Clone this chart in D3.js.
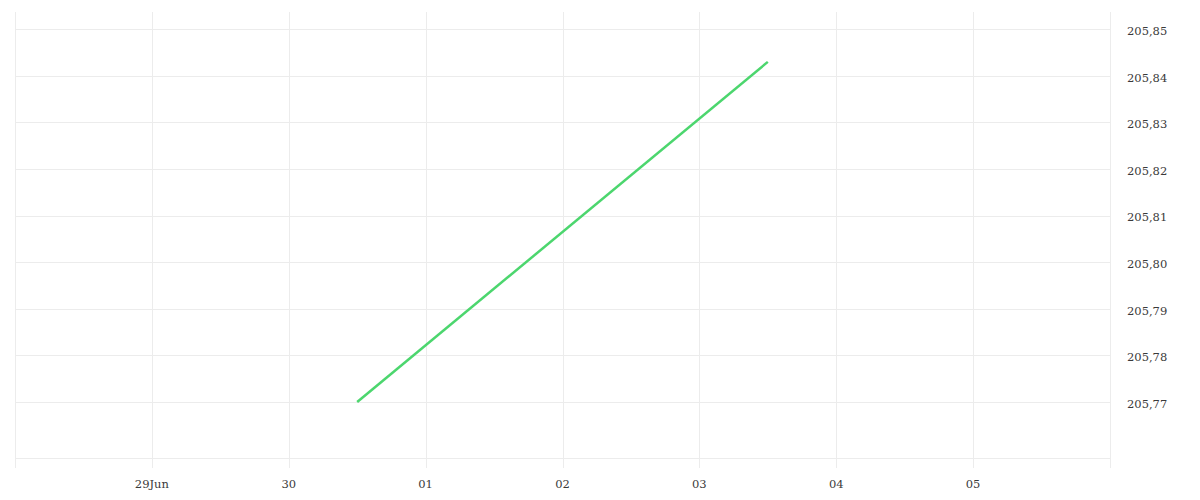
<!DOCTYPE html>
<html>
<head>
<meta charset="utf-8">
<script src="https://cdn.jsdelivr.net/npm/d3@7"></script>
<style>
  html, body { margin: 0; padding: 0; background: #fff; }
  svg { display: block; }
</style>
</head>
<body>
<div id="chart"></div>
<script>
// Series: one straight rise from 30 Jun midday to 3 Jul midday
const pointDates = ['2023-06-30T12:00', '2023-07-03T12:00'];
const pointValues = [205.770, 205.843];

// Axis ticks
const dayTicks = ['2023-06-28', '2023-06-29', '2023-06-30', '2023-07-01', '2023-07-02',
  '2023-07-03', '2023-07-04', '2023-07-05', '2023-07-06'];
const dayLabels = ['', '29Jun', '30', '01', '02', '03', '04', '05', ''];
const valueTicks = [205.77, 205.78, 205.79, 205.80, 205.81, 205.82, 205.83, 205.84, 205.85];

const width = 1200;
const height = 500;
const margin = { top: 12, right: 90, bottom: 42, left: 15 };
const parse = d3.timeParse('%Y-%m-%dT%H:%M');
const parseDay = d3.timeParse('%Y-%m-%d');

const svg = d3.select('#chart')
  .append('svg')
  .attr('width', width)
  .attr('height', height)
  .style('font-family', '"DejaVu Serif", serif');

const x = d3.scaleTime()
  .domain([parseDay('2023-06-28'), parseDay('2023-07-06')])
  .range([margin.left, width - margin.right]);

const y = d3.scaleLinear()
  .domain([205.758, 205.8537])
  .range([height - margin.bottom, margin.top]);

const gridColor = '#ececec';

// Horizontal grid lines + bottom border
svg.append('g')
  .selectAll('line')
  .data(valueTicks.concat([y.domain()[0]]))
  .join('line')
  .attr('x1', margin.left)
  .attr('x2', width - margin.right)
  .attr('y1', d => Math.round(y(d)) + 0.5)
  .attr('y2', d => Math.round(y(d)) + 0.5)
  .attr('stroke', gridColor);

// Vertical grid lines, extending below as tick marks
svg.append('g')
  .selectAll('line')
  .data(dayTicks.map(parseDay))
  .join('line')
  .attr('x1', d => Math.round(x(d)) + 0.5)
  .attr('x2', d => Math.round(x(d)) + 0.5)
  .attr('y1', margin.top)
  .attr('y2', height - margin.bottom + 10)
  .attr('stroke', gridColor);

// X labels
svg.append('g')
  .selectAll('text')
  .data(dayTicks.map(parseDay))
  .join('text')
  .attr('x', d => x(d))
  .attr('y', height - margin.bottom + 30)
  .attr('text-anchor', 'middle')
  .attr('font-size', 11.5)
  .attr('fill', '#3a3a3a')
  .text((d, i) => dayLabels[i]);

// Y labels on the right
svg.append('g')
  .selectAll('text')
  .data(valueTicks)
  .join('text')
  .attr('x', width - margin.right + 17)
  .attr('y', d => y(d))
  .attr('dy', '0.5em')
  .attr('font-size', 11.5)
  .attr('fill', '#3a3a3a')
  .text(d => d3.format('.2f')(d).replace('.', ','));

// Line
const line = d3.line()
  .x((_, i) => x(parse(pointDates[i])))
  .y(d => y(d));

svg.append('path')
  .attr('d', line(pointValues))
  .attr('fill', 'none')
  .attr('stroke', '#4cd66e')
  .attr('stroke-width', 2.5);
</script>
</body>
</html>
